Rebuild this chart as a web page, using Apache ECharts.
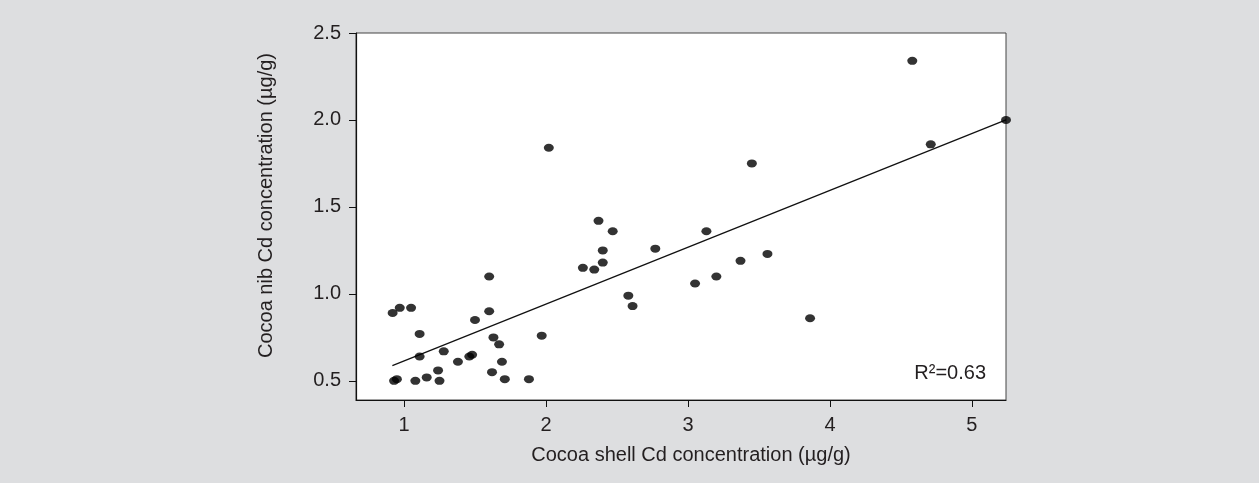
<!DOCTYPE html>
<html>
<head>
<meta charset="utf-8">
<script src="https://cdn.jsdelivr.net/npm/echarts@6/dist/echarts.min.js"></script>
<style>
html,body{margin:0;padding:0;background:#dddee0;}
#chart{width:1259px;height:483px;}
</style>
</head>
<body>
<div id="chart"></div>
<script>
// Cocoa shell Cd (x) vs cocoa nib Cd (y), µg/g
var shellCd = [0.92,0.97,1.05,1.11,1.11,0.93,0.95,1.08,1.16,1.24,1.25,1.28,1.38,1.46,1.48,1.50,1.60,1.60,1.63,1.67,1.62,1.69,1.71,1.88,1.97,2.02,2.26,2.34,2.37,2.40,2.40,2.47,2.58,2.61,2.77,3.05,3.13,3.20,3.37,3.56,3.45,3.86,4.58,4.71,5.24];
var nibCd   = [0.89,0.92,0.92,0.77,0.64,0.50,0.51,0.50,0.52,0.56,0.50,0.67,0.61,0.64,0.65,0.85,1.10,0.90,0.75,0.71,0.55,0.61,0.51,0.51,0.76,1.84,1.15,1.14,1.42,1.25,1.18,1.36,0.99,0.93,1.26,1.06,1.36,1.10,1.19,1.23,1.75,0.86,2.34,1.86,2.00];
// fitted regression line endpoints
var fitX = [0.918, 5.24];
var fitY = [0.588, 2.00];
var xTicks = [1,2,3,4,5];
var yTicks = [0.5,1.0,1.5,2.0,2.5];
var r2Label = 'R²=0.63';

var FONT = '"Liberation Sans", Arial, sans-serif';
var chart = echarts.init(document.getElementById('chart'), null, {renderer:'canvas'});
var pts = shellCd.map(function(x,i){return [x, nibCd[i]];});
var fit = fitX.map(function(x,i){return [x, fitY[i]];});

chart.setOption({
  backgroundColor: '#dddee0',
  animation: false,
  grid: {left:356, right:253, top:33, bottom:83, show:true, backgroundColor:'#ffffff', borderColor:'#444', borderWidth:1},
  xAxis: {
    type:'value', min:0.662, max:5.24,
    name:'Cocoa shell Cd concentration (µg/g)', nameLocation:'middle', nameGap:45,
    nameTextStyle:{fontFamily:FONT, fontSize:20, color:'#231f20', padding:[0,0,0,20]},
    axisLine:{show:true, onZero:false, lineStyle:{color:'#111', width:1.2}},
    axisTick:{show:true, inside:false, length:7, lineStyle:{color:'#111'}, customValues:xTicks},
    axisLabel:{fontFamily:FONT, fontSize:20, color:'#231f20', margin:15, customValues:xTicks},
    splitLine:{show:false}
  },
  yAxis: {
    type:'value', min:0.39, max:2.5,
    name:'Cocoa nib Cd concentration (µg/g)', nameLocation:'middle', nameGap:80, nameRotate:90,
    nameTextStyle:{fontFamily:FONT, fontSize:20, color:'#231f20', padding:[0,0,0,22]},
    axisLine:{show:true, onZero:false, lineStyle:{color:'#111', width:1.2}},
    axisTick:{show:true, inside:false, length:7, lineStyle:{color:'#111'}, customValues:yTicks},
    axisLabel:{fontFamily:FONT, fontSize:20, color:'#231f20', margin:15, customValues:yTicks,
      formatter:function(v){return v.toFixed(1);}},
    splitLine:{show:false}
  },
  series: [
    {type:'line', data:fit, symbol:'none', lineStyle:{color:'#111', width:1.3}, z:2, silent:true},
    {type:'scatter', data:pts, symbol:'circle', symbolSize:[10,8], itemStyle:{color:'#000'}, clip:false, z:3}
  ],
  graphic: [
    {type:'text', right:273, top:363, style:{text:r2Label, fontFamily:FONT, fontSize:20, fill:'#231f20'}}
  ]
});
</script>
</body>
</html>
